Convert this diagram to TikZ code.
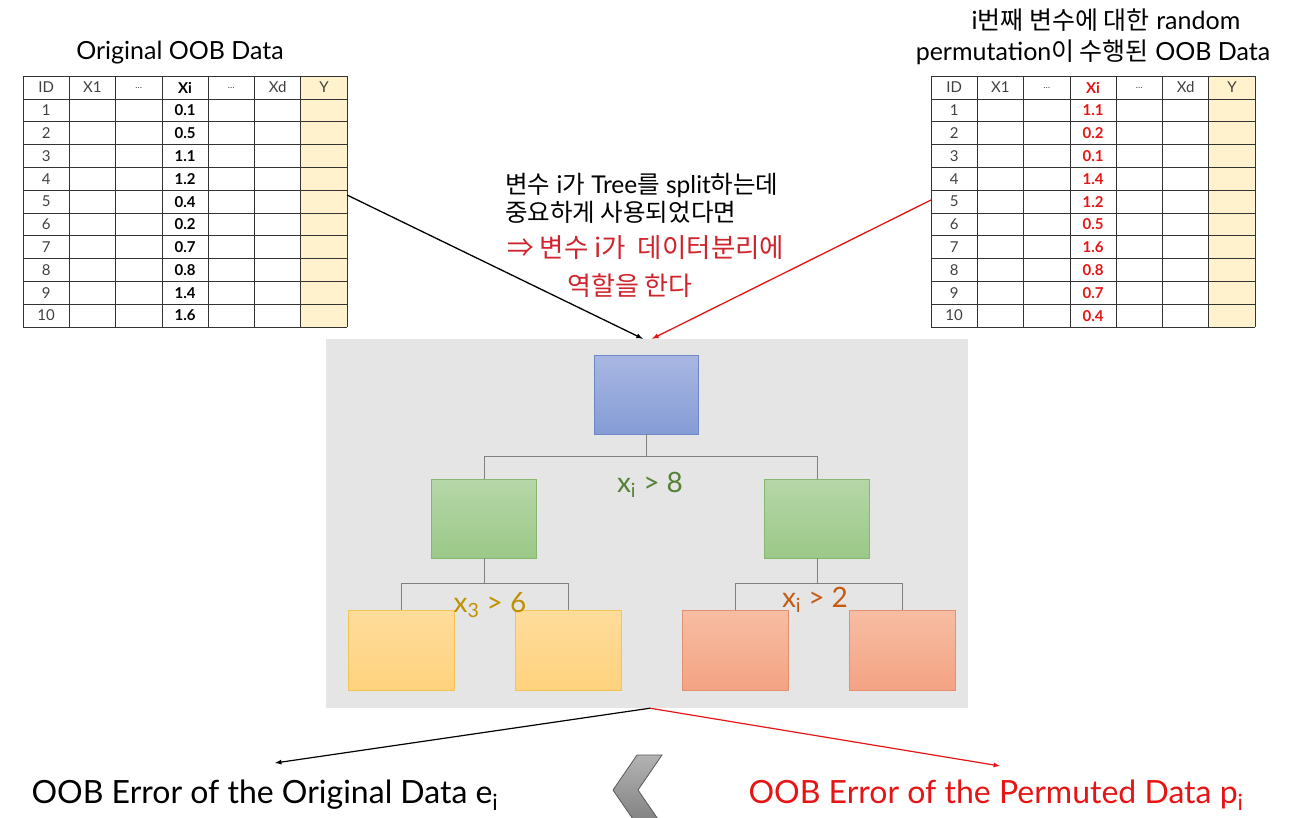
\documentclass[tikz,border=0pt]{standalone}
\usepackage{fontspec}
\setmainfont{Lato}
\newfontfamily\kr{Noto Sans CJK KR}
\definecolor{ycell}{HTML}{FFF2CC}
\definecolor{splitgreen}{HTML}{548235}
\definecolor{splitgold}{HTML}{BF9000}
\definecolor{splitbrown}{HTML}{C55A11}
\definecolor{permred}{HTML}{E61414}
\definecolor{penred}{HTML}{D0242C}
\definecolor{bluetop}{HTML}{A9B7E2}
\definecolor{bluebot}{HTML}{859CD6}
\definecolor{blueline}{HTML}{6D87C9}
\definecolor{greentop}{HTML}{B6D7A8}
\definecolor{greenbot}{HTML}{9BC888}
\definecolor{greenline}{HTML}{86B870}
\definecolor{yellowtop}{HTML}{FFDC9C}
\definecolor{yellowbot}{HTML}{FFD27D}
\definecolor{yellowline}{HTML}{F2C453}
\definecolor{salmontop}{HTML}{F7BDA3}
\definecolor{salmonbot}{HTML}{F4A383}
\definecolor{salmonline}{HTML}{E3906E}
\newcommand\fsz[1]{\fontsize{#1}{#1}\selectfont}
% table: prefix, left x, Xi values, Xi colour
\newcommand\oobtable[4]{%
  \begin{scope}[shift={(#2,76)}]
    \fill[ycell] (277.8,0) rectangle (324.1,251);
    \foreach \c in {0,...,7} \draw[grid] (\c*46.3,0) -- (\c*46.3,251);
    \draw[grid] (0,0) -- (324.1,0);
    \foreach \r in {0,...,10} \draw[grid] (0,23+\r*22.8) -- (324.1,23+\r*22.8);
    \node[cell] (#1h0) at (23.15,11.5) {ID};
    \node[cell] (#1h1) at (69.45,11.5) {X1};
    \node[cell,font=\fsz{9}] (#1h2) at (115.75,12) {\ldots};
    \node[cell,font=\fsz{15}\bfseries,text=#4] (#1h3) at (162.05,11.5) {Xi};
    \node[cell,font=\fsz{9}] (#1h4) at (208.35,12) {\ldots};
    \node[cell] (#1h5) at (254.65,11.5) {Xd};
    \node[cell] (#1h6) at (300.95,11.5) {Y};
    \foreach \v [count=\r] in {#3} {
      \node[cell] (#1id\r) at (23.15,11.6+\r*22.8) {\r};
      \node[cell,font=\fsz{15}\bfseries,text=#4] (#1xi\r) at (162.05,11.6+\r*22.8) {\v};
    }
  \end{scope}}
\begin{document}
\begin{tikzpicture}[>=latex, x=1pt, y=-1pt,
    grid/.style={draw=black!80, line width=0.8pt},
    cell/.style={font=\fsz{15}, text=black!75, inner sep=0pt},
    treenode/.style={draw, line width=0.8pt, minimum width=105pt, minimum height=79pt, inner sep=0pt},
    bluebox/.style={treenode, draw=blueline, top color=bluetop, bottom color=bluebot},
    greenbox/.style={treenode, draw=greenline, top color=greentop, bottom color=greenbot},
    yellowbox/.style={treenode, draw=yellowline, top color=yellowtop, bottom color=yellowbot, minimum width=106pt, minimum height=80pt},
    salmonbox/.style={treenode, draw=salmonline, top color=salmontop, bottom color=salmonbot, minimum width=106pt, minimum height=80pt},
    edge/.style={draw=black!50, line width=1pt},
    flow/.style={->, line width=1.3pt}]
  \useasboundingbox (0,0) rectangle (1292,818);

  % the two OOB tables
  \node[anchor=base, font=\fsz{25}] (origtitle) at (180,60) {Original OOB Data};
  \oobtable{o}{23}{0.1,0.5,1.1,1.2,0.4,0.2,0.7,0.8,1.4,1.6}{black}
  \node[anchor=base, font=\fsz{25}] (permtitle) at (1106,30)
    {i{\kr 번째 변수에 대한} random};
  \node[anchor=base, font=\fsz{25}] (permtitle2) at (1093,61)
    {permutation{\kr 이 수행된} OOB Data};
  \oobtable{p}{931}{1.1,0.2,0.1,1.4,1.2,0.5,1.6,0.8,0.7,0.4}{permred}

  % note in the middle
  \node[anchor=base west, font=\fsz{24.5}, inner sep=0pt] (note1) at (505,194)
    {{\kr 변수} i{\kr 가} Tree{\kr 를} split{\kr 하는데}};
  \node[anchor=base west, font=\fsz{24.5}\kr, inner sep=0pt] (note2) at (505,222)
    {중요하게 사용되었다면};
  \node[anchor=base west, font=\fsz{26.5}\kr, text=penred, inner sep=0pt] (pen1) at (507,258)
    {⇒ 변수 i가 \ 데이터분리에};
  \node[anchor=base, font=\fsz{26}\kr, text=penred, inner sep=0pt] (pen2) at (630,295)
    {역할을 한다};

  % decision tree
  \node[fill=black!10, minimum width=642pt, minimum height=369pt, inner sep=0pt] (treebg) at (647,523.5) {};
  \node[bluebox, minimum width=104pt] (root) at (646,394.5) {};
  \node[greenbox] (gl) at (484,518.5) {};
  \node[greenbox] (gr) at (817,518.5) {};
  \node[yellowbox] (yl) at (401,650) {};
  \node[yellowbox] (yr) at (568,650) {};
  \node[salmonbox] (ol) at (735,650) {};
  \node[salmonbox] (or) at (902,650) {};
  \draw[edge] (root.south) -- ++(0,22) -| (gl.north);
  \draw[edge] (root.south) -- ++(0,22) -| (gr.north);
  \draw[edge] (gl.south) -- ++(0,25) -| (yl.north);
  \draw[edge] (gl.south) -- ++(0,25) -| (yr.north);
  \draw[edge] (gr.south) -- ++(0,25) -| (ol.north);
  \draw[edge] (gr.south) -- ++(0,25) -| (or.north);
  \node[anchor=base, font=\fsz{28}, text=splitgreen] (split1) at (650,492) {x\textsubscript{i} > 8};
  \node[anchor=base, font=\fsz{28}, text=splitgold] (split2) at (490,612) {x\textsubscript{3} > 6};
  \node[anchor=base, font=\fsz{28}, text=splitbrown] (split3) at (815,607) {x\textsubscript{i} > 2};

  % arrows into and out of the tree
  \coordinate (origout) at (347,195);
  \coordinate (permout) at (931,200);
  \draw[flow] (origout) -- ([xshift=-4pt]treebg.north);
  \draw[flow, permred] (permout) -- ([xshift=5pt]treebg.north);
  \node[anchor=base west, font=\fsz{32}] (errorig) at (28,803) {OOB Error of the Original Data e\textsubscript{i}};
  \node[anchor=base west, font=\fsz{32}, text=permred] (errperm) at (745,803) {OOB Error of the Permuted Data p\textsubscript{i}};
  \coordinate (origend) at (275,763);
  \coordinate (permend) at (1000,766);
  \draw[flow, line width=1.2pt] ([xshift=3pt]treebg.south) -- (origend);
  \draw[flow, line width=1.2pt, permred] ([xshift=3pt]treebg.south) -- (permend);

  % chevron between the two errors
  \shade[top color=black!30, bottom color=black!50, draw=black!65, line width=0.8pt]
    (637,755) -- (662,755) -- (638,790) -- (662,825) -- (637,825) -- (613,790) -- cycle;
\end{tikzpicture}
\end{document}
